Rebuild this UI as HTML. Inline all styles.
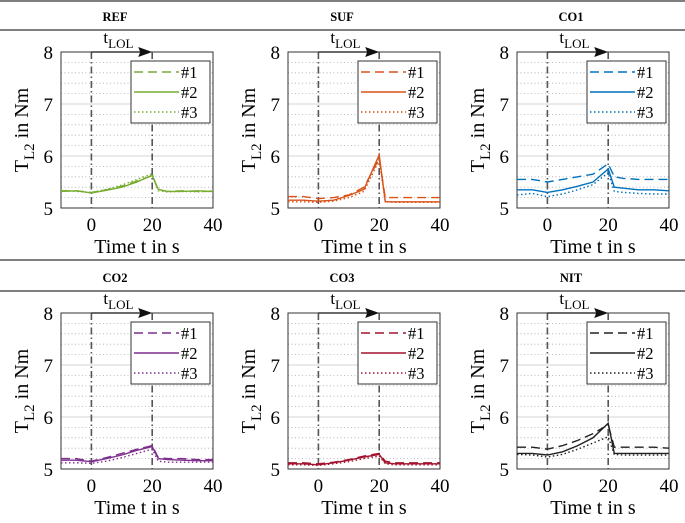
<!DOCTYPE html>
<html><head><meta charset="utf-8"><style>
body{margin:0;background:#fff;}
svg text{font-family:"Liberation Serif",serif;}
</style></head><body>
<svg id="c" width="685" height="518" viewBox="0 0 685 518" xmlns="http://www.w3.org/2000/svg"></svg>
<script>
const times = [-10,-5,0,5,10,15,20,22,25,30,35,40];
const panelNames = ["REF","SUF","CO1","CO2","CO3","NIT"];
const panelColors = ["#77ac30","#d95319","#0072bd","#7e2f8e","#a2142f","#222222"];
const ref1 = [5.33,5.33,5.3,5.35,5.42,5.52,5.62,5.35,5.32,5.33,5.32,5.32];
const ref2 = [5.32,5.33,5.29,5.34,5.4,5.5,5.63,5.36,5.32,5.32,5.33,5.32];
const ref3 = [5.34,5.32,5.3,5.36,5.44,5.55,5.66,5.33,5.31,5.32,5.31,5.33];
const suf1 = [5.22,5.22,5.18,5.2,5.25,5.4,5.95,5.2,5.2,5.2,5.2,5.2];
const suf2 = [5.15,5.15,5.13,5.15,5.24,5.36,6.02,5.12,5.12,5.12,5.12,5.12];
const suf3 = [5.12,5.12,5.11,5.13,5.2,5.32,5.92,5.12,5.11,5.11,5.11,5.11];
const co11 = [5.55,5.55,5.5,5.55,5.6,5.65,5.85,5.6,5.57,5.55,5.55,5.55];
const co12 = [5.35,5.35,5.3,5.35,5.42,5.5,5.75,5.4,5.38,5.35,5.35,5.33];
const co13 = [5.25,5.28,5.22,5.27,5.35,5.45,5.68,5.32,5.3,5.28,5.27,5.27];
const co21 = [5.2,5.2,5.15,5.22,5.3,5.38,5.45,5.22,5.2,5.2,5.18,5.18];
const co22 = [5.17,5.17,5.14,5.2,5.27,5.36,5.43,5.2,5.18,5.17,5.16,5.16];
const co23 = [5.12,5.12,5.11,5.15,5.22,5.3,5.38,5.15,5.13,5.13,5.13,5.13];
const co31 = [5.12,5.12,5.1,5.13,5.18,5.25,5.3,5.15,5.12,5.12,5.12,5.12];
const co32 = [5.1,5.1,5.08,5.12,5.17,5.23,5.28,5.12,5.1,5.1,5.1,5.1];
const co33 = [5.08,5.08,5.07,5.1,5.14,5.2,5.25,5.1,5.08,5.08,5.08,5.08];
const nit1 = [5.42,5.42,5.38,5.45,5.55,5.68,5.85,5.42,5.42,5.42,5.42,5.4];
const nit2 = [5.3,5.3,5.27,5.33,5.45,5.6,5.88,5.3,5.3,5.3,5.3,5.3];
const nit3 = [5.28,5.27,5.23,5.28,5.38,5.5,5.62,5.28,5.27,5.27,5.27,5.27];
const series = [[ref1,ref2,ref3],[suf1,suf2,suf3],[co11,co12,co13],[co21,co22,co23],[co31,co32,co33],[nit1,nit2,nit3]];
const xTicks = [0,20,40];
const yTicks = [5,6,7,8];
const legendLabels = ["#1","#2","#3"];

const NS="http://www.w3.org/2000/svg";
const svg=document.getElementById('c');
function mk(tag,attrs,parent){const e=document.createElementNS(NS,tag);for(const k in attrs)e.setAttribute(k,attrs[k]);(parent||svg).appendChild(e);return e;}
const dashes=["9,5","","1.5,2.5"];
const colLeft=[61,288,517], rowTop=[52,313];
const W=152,H=156;
[1,30,260,291].forEach(y=>{const l=mk('line',{x1:0,x2:685,y1:y,y2:y,stroke:'#333','stroke-width':1.2});

});
for(let p=0;p<6;p++){
  const L=colLeft[p%3], T=rowTop[Math.floor(p/3)];
  const g=mk('g',{});
  
  
  const X=t=>L+(t+10)/50*W, Y=v=>T+(8-v)/3*H;
  const hd=mk('text',{x:L+W/2-22,y:T-31,'font-size':12.5,'font-weight':'bold','text-anchor':'middle'},g);
  hd.textContent=panelNames[p];
  
  
  for(let v=5.2;v<8;v+=0.2){ if(Math.abs(v-Math.round(v))<0.01) continue;
    mk('line',{x1:L,x2:L+W,y1:Y(v),y2:Y(v),stroke:'#aaa','stroke-width':0.8,'stroke-dasharray':'1,2.5'},g);}
  [6,7].forEach(v=>mk('line',{x1:L,x2:L+W,y1:Y(v),y2:Y(v),stroke:'#ddd','stroke-width':1.2},g));
  const box=mk('rect',{x:L,y:T,width:W,height:H,fill:'none',stroke:'#333','stroke-width':1},g);
  
  
  [0,20].forEach(t=>mk('line',{x1:X(t),x2:X(t),y1:T,y2:T+H,stroke:'#555','stroke-width':1.6,'stroke-dasharray':'7,3,1.5,3'},g));
  const ar=mk('g',{},g);
  
  
  mk('line',{x1:X(0),x2:X(20)-12,y1:T,y2:T,stroke:'#111','stroke-width':1.2},ar);
  mk('polygon',{points:`${X(20)},${T} ${X(20)-14},${T-5} ${X(20)-12},${T} ${X(20)-14},${T+5}`,fill:'#111'},ar);
  const tl=mk('text',{x:X(0)+12,y:T-9,'font-size':17},g);
  tl.innerHTML='t<tspan dy="5" font-size="13">LOL</tspan>';
  
  
  series[p].forEach((arr,i)=>{
    const d=arr.map((v,k)=>(k?'L':'M')+X(times[k]).toFixed(1)+','+Y(v).toFixed(1)).join(' ');
    const pa=mk('path',{d,fill:'none',stroke:panelColors[p],'stroke-width':1.4,'stroke-dasharray':dashes[i]},g);
    
    
  });
  const lg=mk('g',{},g);
  
  
  mk('rect',{x:L+70,y:T+9,width:79,height:62,fill:'#fff',stroke:'#333','stroke-width':1},lg);
  legendLabels.forEach((lab,i)=>{
    const yy=T+20+i*20;
    mk('line',{x1:L+73,x2:L+118,y1:yy,y2:yy,stroke:panelColors[p],'stroke-width':1.4,'stroke-dasharray':dashes[i]},lg);
    const t=mk('text',{x:L+120,y:yy+6,'font-size':16.5},lg);t.textContent=lab;
    
    
  });
  xTicks.forEach(t=>{const e=mk('text',{x:X(t),y:T+H+23,'font-size':19,'text-anchor':'middle'},g);e.textContent=t;
    
    });
  yTicks.forEach(v=>{const e=mk('text',{x:L-8,y:Y(v)+7,'font-size':19,'text-anchor':'end'},g);e.textContent=v;
    
    });
  const xl=mk('text',{x:L+W/2,y:T+H+45,'font-size':20,'text-anchor':'middle'},g);xl.textContent='Time t in s';
  
  
  const yl=mk('text',{x:0,y:0,'font-size':20,'text-anchor':'middle',transform:`translate(${L-33},${T+78}) rotate(-90)`},g);
  yl.innerHTML='T<tspan dy="6" font-size="15">L2</tspan><tspan dy="-6"> in Nm</tspan>';
  
  
}
</script>
</body></html>
